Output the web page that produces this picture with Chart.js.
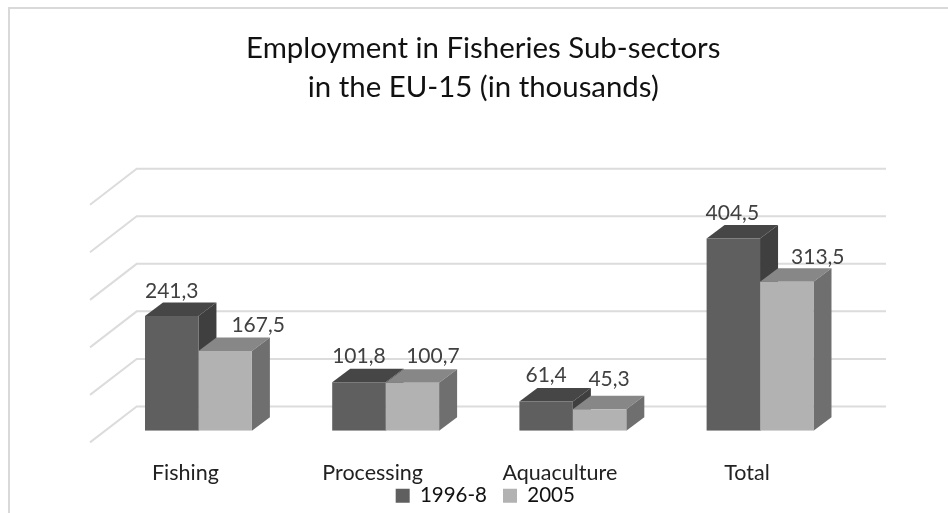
<!DOCTYPE html>
<html>
<head>
<meta charset="utf-8">
<script src="https://cdn.jsdelivr.net/npm/chart.js@4"></script>
<style>
  html, body { margin: 0; padding: 0; background: #fff; overflow: hidden; }
  #wrap { position: relative; width: 948px; height: 513px; overflow: hidden; }
  #frame { position: absolute; left: 8px; top: 7px; width: 948px; height: 520px; border: 2px solid #d9d9d9; box-sizing: border-box; }
  canvas { position: absolute; left: 0; top: 0; }
</style>
</head>
<body>
<div id="wrap">
  <div id="frame"></div>
  <canvas id="chart" width="948" height="513"></canvas>
</div>
<script>
const categories = ["Fishing", "Processing", "Aquaculture", "Total"];
const series1996 = [241.3, 101.8, 61.4, 404.5];
const series2005 = [167.5, 100.7, 45.3, 313.5];
const yTicks = [0, 100, 200, 300, 400, 500];

// depth of the fake 3D look, in px
const barDepth = { x: 18, y: 13.5 };
const wallDepth = { x: 46.7, y: 36 };
const wallShift = 24.3;
const wallLeft = 136.7;
const wallRight = 886;

// labels in the reference don't sit centred on the bars
const labelNudge = [
  [[0, -24.7], [0, -26], [0, -26], [-1, -25.3]],
  [[33, -25.7], [20.5, -26.3], [9.5, -30.3], [31, -24.6]]
];

const faceColors = [
  { top: "#464646", side: "#3f3f3f" },
  { top: "#878787", side: "#6f6f6f" }
];

const fakeDepth = {
  id: "fakeDepth",
  afterLayout(chart) {
    // title and legend sit off the middle in the reference
    chart.titleBlock.left += 4;
    chart.titleBlock.right += 4;
    chart.legend.left += 6;
    chart.legend.right += 6;
    chart.legend.top -= 37;
    chart.legend.bottom -= 37;
  },
  beforeDatasetsDraw(chart) {
    const ctx = chart.ctx;
    const y = chart.scales.y;

    // back wall + floor lines
    ctx.save();
    ctx.strokeStyle = "#dcdcdc";
    ctx.lineWidth = 2;
    yTicks.forEach(t => {
      const py = y.getPixelForValue(t) - wallShift;
      ctx.beginPath();
      ctx.moveTo(wallLeft - wallDepth.x, py + wallDepth.y);
      ctx.lineTo(wallLeft, py);
      ctx.lineTo(wallRight, py);
      ctx.stroke();
    });
    ctx.restore();

    // top and side of each bar
    chart.data.datasets.forEach((ds, d) => {
      chart.getDatasetMeta(d).data.forEach(bar => {
        const l = bar.x - bar.width / 2;
        const r = bar.x + bar.width / 2;
        ctx.fillStyle = faceColors[d].top;
        ctx.beginPath();
        ctx.moveTo(l, bar.y);
        ctx.lineTo(l + barDepth.x, bar.y - barDepth.y);
        ctx.lineTo(r + barDepth.x, bar.y - barDepth.y);
        ctx.lineTo(r, bar.y);
        ctx.closePath();
        ctx.fill();
        ctx.fillStyle = faceColors[d].side;
        ctx.beginPath();
        ctx.moveTo(r, bar.y);
        ctx.lineTo(r + barDepth.x, bar.y - barDepth.y);
        ctx.lineTo(r + barDepth.x, bar.base - barDepth.y);
        ctx.lineTo(r, bar.base);
        ctx.closePath();
        ctx.fill();
      });
    });
  },
  afterDatasetsDraw(chart) {
    const ctx = chart.ctx;
    ctx.save();
    ctx.font = "21px Lato";
    ctx.fillStyle = "#404040";
    ctx.textAlign = "center";
    ctx.textBaseline = "middle";
    chart.data.datasets.forEach((ds, d) => {
      chart.getDatasetMeta(d).data.forEach((bar, i) => {
        const n = labelNudge[d][i];
        ctx.fillText(ds.data[i].toFixed(1).replace(".", ","), bar.x + n[0], bar.y + n[1]);
      });
    });
    ctx.restore();
  }
};

new Chart(document.getElementById("chart"), {
  type: "bar",
  data: {
    labels: categories,
    datasets: [
      { label: "1996-8", data: series1996, backgroundColor: "#5f5f5f" },
      { label: "2005", data: series2005, backgroundColor: "#b2b2b2" }
    ]
  },
  options: {
    responsive: false,
    animation: false,
    layout: { padding: { left: 104.85, right: 94.35, top: 0, bottom: -40 } },
    datasets: { bar: { barPercentage: 1, categoryPercentage: 0.571 } },
    scales: {
      x: {
        grid: { display: false },
        border: { display: false },
        ticks: { color: "#222", font: { family: "Lato", size: 21.5 }, labelOffset: -13, padding: 21, maxRotation: 0 }
      },
      y: {
        display: false,
        min: 0,
        max: 500
      }
    },
    plugins: {
      title: {
        display: true,
        text: ["Employment in Fisheries Sub-sectors", "in the EU-15 (in thousands)"],
        color: "#111",
        font: { family: "Lato", size: 29.4, weight: "normal", lineHeight: 1.32 },
        padding: { top: 29.5, bottom: 86 }
      },
      legend: {
        position: "bottom",
        labels: {
          color: "#111",
          font: { family: "Lato", size: 20.5 },
          boxWidth: 14,
          boxHeight: 14,
          padding: 16
        }
      },
      tooltip: { enabled: false }
    }
  },
  plugins: [fakeDepth]
});
</script>
</body>
</html>
